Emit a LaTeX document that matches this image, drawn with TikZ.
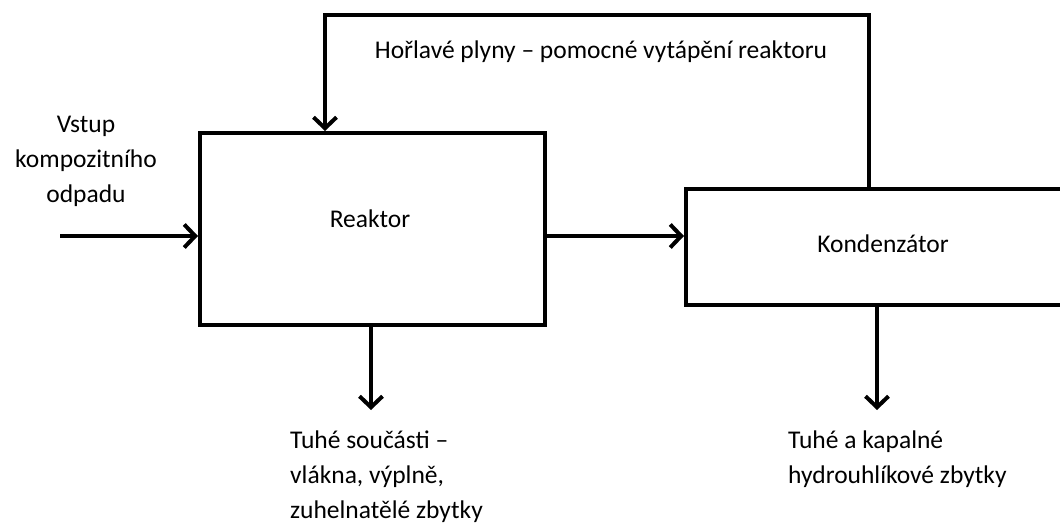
\documentclass[tikz,border=0pt]{standalone}
\usepackage{fontspec}
\setmainfont{Carlito}
\usetikzlibrary{arrows.meta}
\begin{document}
\begin{tikzpicture}[x=1pt,y=-1pt,
  box/.style={draw,line width=4pt,minimum width=#1,inner sep=0pt},
  conn/.style={line width=4pt},
  arr/.style={conn,-{Straight Barb[length=11pt,width=23pt,line width=4pt]}},
  lbl/.style={font=\fontsize{25.5}{35}\selectfont,inner sep=0pt},
  ]
\useasboundingbox (0,0) rectangle (1060,524);
\clip (0,0) rectangle (1060,524);
\node[box=345pt,minimum height=192pt] (reak) at (372.5,229) {};
\node[box=394pt,minimum height=116pt] (kond) at (883,247) {};
\node[lbl,anchor=base] (treak) at (370,227) {Reaktor};
\node[lbl,anchor=base] (tkond) at (883,252) {Kondenzátor};
% coordinates
\coordinate (in) at (60,236);
\coordinate (y236) at (0,236);
\coordinate (fbR) at (869,15);
\coordinate (fbL) at (325,15);
\coordinate (outR) at (371,410);
\coordinate (outK) at (877,410);
% connectors
\draw[arr] (in) -- (reak.west |- in);
\draw[arr] (reak.east |- y236) -- (kond.west |- y236);
\draw[arr] (kond.north -| fbR) -- (fbR) -- (fbL) -- (reak.north -| fbL);
\draw[arr] (reak.south -| outR) -- (outR);
\draw[arr] (kond.south -| outK) -- (outK);
% texts (base anchor = baseline of the last line)
\node[lbl,anchor=base] (tfb) at (601,59) {Hořlavé plyny – pomocné vytápění reaktoru};
\node[lbl,align=center,anchor=base] (tin) at (86,202) {Vstup\\kompozitního\\odpadu};
\node[lbl,align=left,anchor=base west] (tsol) at (290,518) {Tuhé součásti –\\vlákna, výplně,\\zuhelnatělé zbytky};
\node[lbl,align=left,anchor=base west] (thyd) at (788,483) {Tuhé a kapalné\\hydrouhlíkové zbytky};
\end{tikzpicture}
\end{document}
